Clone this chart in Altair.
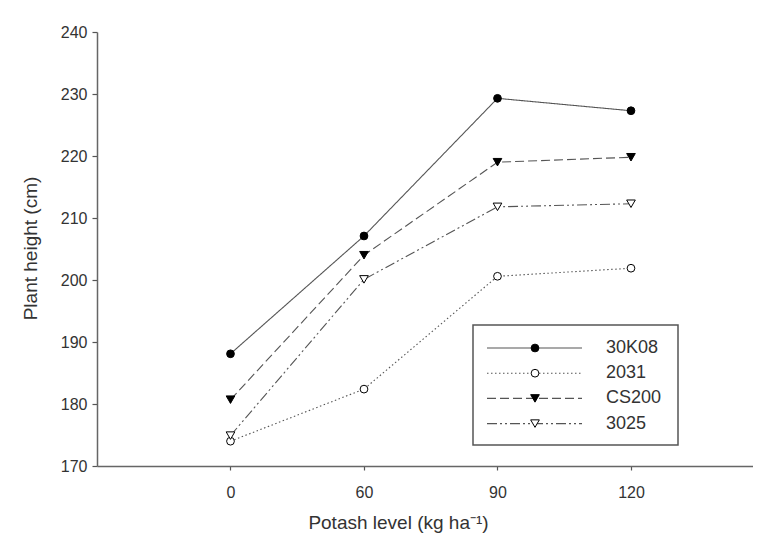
import altair as alt
import pandas as pd

potash = ["0", "60", "90", "120"]
series = ["30K08", "2031", "CS200", "3025"]
h_30K08 = [188.1, 207.1, 229.3, 227.3]
h_2031 = [174.0, 182.4, 200.6, 201.9]
h_CS200 = [180.7, 204.0, 219.0, 219.8]
h_3025 = [174.9, 200.1, 211.8, 212.3]
values = {"30K08": h_30K08, "2031": h_2031, "CS200": h_CS200, "3025": h_3025}

styles = {
    "30K08": dict(dash=[1, 0], shape="circle", fill="black", size=60),
    "2031": dict(dash=[1.5, 2.5], shape="circle", fill="white", size=60),
    "CS200": dict(dash=[9, 4], shape="triangle-down", fill="black", size=75),
    "3025": dict(dash=[10, 3, 2, 3, 2, 3], shape="triangle-down", fill="white", size=75),
}

rows = []
for s in series:
    for i, (p, v) in enumerate(zip(potash, values[s])):
        rows.append({"series": s, "idx": i, "potash": p, "height": v})
df = pd.DataFrame(rows)

label_expr = "[" + ",".join("'%s'" % p for p in potash) + "][datum.value]"

x_enc = alt.X(
    "idx:Q",
    scale=alt.Scale(domain=[-1, 3.914], nice=False, zero=False),
    axis=alt.Axis(
        values=list(range(len(potash))), labelExpr=label_expr, grid=False,
        tickSize=4, labelPadding=14, labelFontSize=16,
        title="Potash level (kg ha⁻¹)", titleX=301, titleY=56,
        titleBaseline="middle", titleFontSize=19, titleFontWeight="normal",
    ),
)
y_enc = alt.Y(
    "height:Q",
    scale=alt.Scale(domain=[170, 240], nice=False, zero=False),
    axis=alt.Axis(
        values=list(range(170, 241, 10)), grid=False, tickSize=5, labelPadding=5,
        labelFontSize=16, title="Plant height (cm)", titleX=-67, titleY=216,
        titleBaseline="middle", titleAngle=270, titleFontSize=19, titleFontWeight="normal",
    ),
)

layers = []
for s in series:
    st = styles[s]
    d = df[df.series == s]
    layers.append(
        alt.Chart(d).mark_line(color="#555", strokeWidth=1.1, strokeDash=st["dash"]).encode(x=x_enc, y=y_enc)
    )
    layers.append(
        alt.Chart(d).mark_point(shape=st["shape"], filled=True, fill=st["fill"], stroke="black",
                                strokeWidth=1, size=st["size"], opacity=1).encode(x=x_enc, y=y_enc)
    )

# legend box (pixel positions inside the plot area)
one = pd.DataFrame({"k": [0]})
layers.append(
    alt.Chart(one).mark_rect(fill="white", stroke="#555", strokeWidth=1.5).encode(
        x=alt.value(376), x2=alt.value(581), y=alt.value(293), y2=alt.value(413)
    )
)
for j, s in enumerate(series):
    st = styles[s]
    ly = 316 + j * 25.2
    layers.append(
        alt.Chart(one).mark_rule(color="#555", strokeWidth=1.1, strokeDash=st["dash"]).encode(
            x=alt.value(390), x2=alt.value(485), y=alt.value(ly)
        )
    )
    layers.append(
        alt.Chart(one).mark_point(shape=st["shape"], filled=True, fill=st["fill"], stroke="black",
                                  strokeWidth=1, size=st["size"], opacity=1).encode(
            x=alt.value(438), y=alt.value(ly)
        )
    )
    layers.append(
        alt.Chart(one).mark_text(align="left", baseline="middle", fontSize=18, color="#333",
                                 font="Liberation Sans").encode(
            x=alt.value(509), y=alt.value(ly), text=alt.value(s)
        )
    )

chart = alt.layer(*layers).properties(
    width=656, height=434,
    autosize=alt.AutoSizeParams(type="none"),
    padding={"left": 89, "top": 24, "right": 0, "bottom": 67},
).configure_view(stroke=None).configure_axis(
    domainColor="#666", domainWidth=1.5, tickColor="#555", tickWidth=1.2,
    labelFont="Liberation Sans", titleFont="Liberation Sans",
    labelColor="#333", titleColor="#333",
)

chart.save("out.html", embed_options={"renderer": "svg", "actions": False})
